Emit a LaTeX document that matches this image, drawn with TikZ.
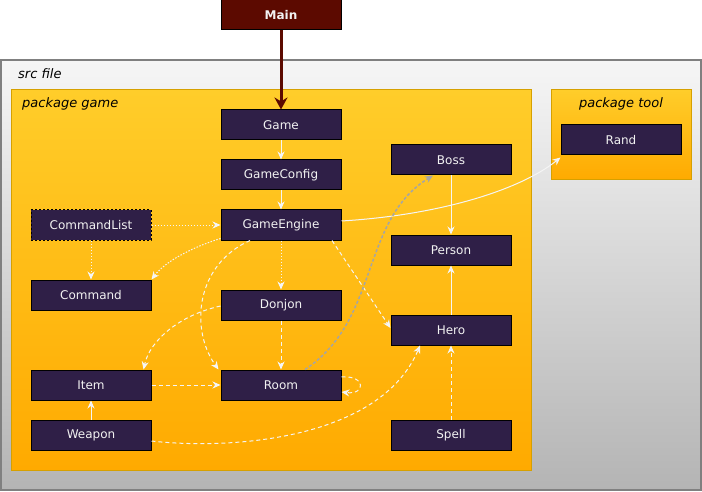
\documentclass[tikz,border=0pt]{standalone}
\usepackage{fontspec}
\setmainfont{DejaVu Sans}
\usetikzlibrary{arrows.meta}
\definecolor{nodefill}{RGB}{47,31,71}
\definecolor{mainfill}{RGB}{92,10,0}
\definecolor{pkgtop}{RGB}{255,205,42}
\definecolor{pkgbot}{RGB}{255,170,0}
\definecolor{pkgborder}{RGB}{214,160,0}
\definecolor{srctop}{RGB}{246,246,246}
\definecolor{srcbot}{RGB}{180,180,180}
\definecolor{srcborder}{RGB}{128,128,128}
\definecolor{edgecol}{RGB}{245,245,245}
\definecolor{graycol}{RGB}{165,165,165}
\definecolor{txtcol}{RGB}{242,242,242}
\tikzset{
  cls/.style={draw=black, line width=1pt, fill=nodefill, text=txtcol,
    minimum width=120pt, minimum height=30pt, inner sep=0pt,
    font=\fontsize{12}{14}\selectfont},
  mainbox/.style={cls, fill=mainfill, font=\fontsize{12}{14}\selectfont\bfseries},
  dashbox/.style={cls, dash pattern=on 2pt off 2pt},
  lbl/.style={font=\fontsize{13}{15}\selectfont\itshape, text=black, inner sep=0pt},
  arr/.style={-{Stealth[length=8pt,width=7pt]}, draw=edgecol, line width=1pt},
  solidarr/.style={arr},
  dashedarr/.style={arr, dash pattern=on 4pt off 3pt},
  dottedarr/.style={arr, dash pattern=on 1.5pt off 1.5pt},
  grayarr/.style={-{Stealth[length=8pt,width=7pt]}, draw=graycol, line width=1.5pt, dash pattern=on 3pt off 2pt},
  mainarr/.style={-{Stealth[length=12pt,width=13pt]}, draw=mainfill, line width=3pt}
}
\begin{document}
\begin{tikzpicture}[x=1pt,y=-1pt]
\useasboundingbox (0,0) rectangle (702,492);
% containers
\fill[top color=srctop, bottom color=srcbot] (1,60) rectangle (701,490);
\draw[srcborder, line width=2pt] (1,60) rectangle (701,490);
\node[lbl, anchor=west] (srclbl) at (18,74) {src file};
\fill[top color=pkgtop, bottom color=pkgbot] (11,90) rectangle (531,470);
\draw[pkgborder, line width=1pt] (11,90) rectangle (531,470);
\node[lbl, anchor=west] (gamelbl) at (22,104) {package game};
\fill[top color=pkgtop, bottom color=pkgbot] (551,90) rectangle (691,180);
\draw[pkgborder, line width=1pt] (551,90) rectangle (691,180);
\node[lbl] (toollbl) at (621,104) {package tool};
% nodes
\node[mainbox] (Main) at (281,15) {Main};
\node[cls] (Game) at (281,125) {Game};
\node[cls] (GameConfig) at (281,175) {GameConfig};
\node[cls] (GameEngine) at (281,225) {GameEngine};
\node[dashbox] (CommandList) at (91,225) {CommandList};
\node[cls] (Command) at (91,295) {Command};
\node[cls] (Donjon) at (281,305) {Donjon};
\node[cls] (Item) at (91,385) {Item};
\node[cls] (Room) at (281,385) {Room};
\node[cls] (Weapon) at (91,435) {Weapon};
\node[cls] (Boss) at (451,160) {Boss};
\node[cls] (Person) at (451,250) {Person};
\node[cls] (Hero) at (451,330) {Hero};
\node[cls] (Spell) at (451,435) {Spell};
\node[cls] (Rand) at (621,140) {Rand};
% edges
\draw[mainarr] (Main.south) -- (Game.north);
\draw[solidarr] (Game.south) -- (GameConfig.north);
\draw[solidarr] (GameConfig.south) -- (GameEngine.north);
\draw[dottedarr] (CommandList.east) -- (GameEngine.west);
\draw[dottedarr] (CommandList.south) -- (Command.north);
\draw[dottedarr] (GameEngine.south west) ++(0,-2) .. controls (190,248) and (165,262) .. (Command.north east);
\draw[dottedarr] (GameEngine.south) -- (Donjon.north);
\draw[dashedarr] ([xshift=-31pt]GameEngine.south) .. controls (195,265) and (190,330) .. ([xshift=-2pt]Room.north west);
\draw[dashedarr] ([xshift=51pt]GameEngine.south) -- ([yshift=2pt]Hero.west);
\draw[solidarr] (GameEngine.east) ++(0,-4) .. controls (440,215) and (520,190) .. ([yshift=-2pt]Rand.south west);
\draw[dashedarr] (Donjon.south) -- (Room.north);
\draw[dashedarr] ([yshift=-1pt]Donjon.west) .. controls (180,315) and (150,340) .. ([xshift=-8pt]Item.north east);
\draw[dashedarr] (Item.east) -- (Room.west);
\draw[solidarr] (Weapon.north) -- (Item.south);
\draw[dashedarr] ([yshift=-6pt]Weapon.east) .. controls (230,450) and (380,440) .. ([xshift=-31pt]Hero.south);
\draw[grayarr] ([xshift=24pt]Room.north) .. controls (380,320) and (360,220) .. ([xshift=-18pt]Boss.south);
\draw[dashedarr] ([yshift=8pt]Room.east) .. controls (366,375) and (366,395) .. ([yshift=-7pt]Room.east);
\draw[solidarr] (Boss.south) -- (Person.north);
\draw[solidarr] (Hero.north) -- (Person.south);
\draw[dashedarr] (Spell.north) -- (Hero.south);
\end{tikzpicture}
\end{document}
